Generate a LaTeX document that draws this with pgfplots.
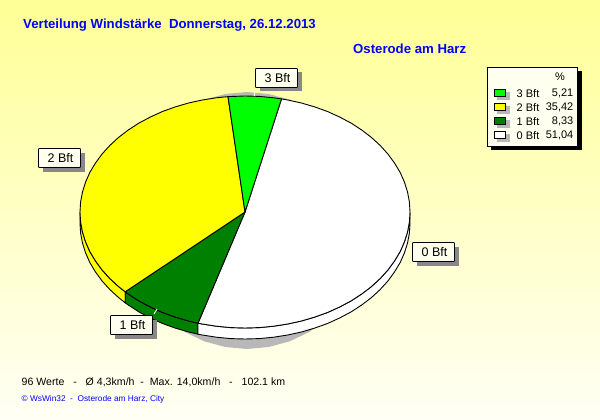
\documentclass[border=0pt]{standalone}
\usepackage{pgfplots}
\pgfplotsset{compat=1.18}
\usepackage{fontspec}
\setmainfont{Liberation Sans}
\definecolor{bgtop}{RGB}{255,255,150}
\definecolor{bgbot}{RGB}{255,255,245}
\definecolor{ivory}{RGB}{255,255,240}
\definecolor{shad}{RGB}{184,184,184}
\definecolor{lshad}{RGB}{136,136,136}
\definecolor{lime3}{RGB}{0,255,0}
\definecolor{yel2}{RGB}{255,255,0}
\definecolor{grn1}{RGB}{0,128,0}
\definecolor{ttl}{RGB}{0,0,255}
\newcommand{\lab}[5]{%
  \fill[lshad] (axis cs:#1+4,#2+4) rectangle (axis cs:#3+4,#4+4);
  \draw[black,line width=0.9pt,fill=ivory,rounded corners=0.7pt] (axis cs:#1,#2) rectangle (axis cs:#3,#4);
  \node[font=\fontsize{12.5}{12}\selectfont,anchor=center] at (axis cs:{(#1+#3)/2+1},{(#2+#4)/2}) {#5};}
\newcommand{\swatch}[2]{%
  \fill[shad] (axis cs:497,#1-1) rectangle (axis cs:510,#1+7);
  \draw[black,line width=0.9pt,fill=#2] (axis cs:494,#1-4) rectangle (axis cs:505.7,#1+3.5);}
\newcommand{\legrow}[3]{%
  \node[font=\fontsize{11}{12}\selectfont,anchor=west,inner sep=0pt] at (axis cs:516.5,#1) {#2};
  \node[font=\fontsize{11}{12}\selectfont,anchor=east,inner sep=0pt] at (axis cs:573.5,#1) {#3};}
\begin{document}
\begin{tikzpicture}
\begin{axis}[
  scale only axis, width=600pt, height=420pt,
  xmin=0, xmax=600, ymin=0, ymax=420, y dir=reverse,
  hide axis, clip=true]
\fill[top color=bgtop,bottom color=bgbot] (axis cs:0,0) rectangle (axis cs:600,420);
% shadow
\addplot[fill=shad,draw=none] coordinates {(372,220.5)(370.1,198.2)(364.5,176.6)(355.3,156.2)(342.8,137.9)(327.4,122.1)(309.5,109.2)(289.8,99.7)(268.7,94)(247,92)(225.3,94)(204.2,99.7)(184.5,109.2)(166.6,122.1)(151.2,137.9)(138.7,156.2)(129.5,176.6)(123.9,198.2)(122,220.5)(123.9,242.8)(129.5,264.4)(138.7,284.8)(151.2,303.1)(166.6,318.9)(184.5,331.8)(204.2,341.3)(225.3,347)(247,349)(268.7,347)(289.8,341.3)(309.5,331.8)(327.4,318.9)(342.8,303.1)(355.3,284.8)(364.5,264.4)(370.1,242.8)} --cycle;
% pie rim
\addplot[fill=yel2,draw=black,line width=0.9pt] coordinates {(80,212)(80.6,222.1)(82.5,232.1)(85.6,242)(89.9,251.7)(95.5,261)(102.1,270)(109.8,278.5)(118.6,286.6)(125.2,291.8)(125.2,302.8)(118.6,297.6)(109.8,289.5)(102.1,281)(95.5,272)(89.9,262.7)(85.6,253)(82.5,243.1)(80.6,233.1)(80,223)} --cycle;
\addplot[fill=grn1,draw=black,line width=0.9pt] coordinates {(125.2,291.8)(128.3,294)(138.9,300.9)(150.4,307)(162.5,312.5)(175.3,317.1)(188.6,321)(198,323.2)(198,334.2)(188.6,332)(175.3,328.1)(162.5,323.5)(150.4,318)(138.9,311.9)(128.3,305)(125.2,302.8)} --cycle;
\addplot[fill=white,draw=black,line width=0.9pt] coordinates {(198,323.2)(202.3,324)(216.4,326.2)(230.6,327.6)(245,328)(259.4,327.6)(273.6,326.2)(287.7,324)(301.4,321)(314.7,317.1)(327.5,312.5)(339.6,307)(351.1,300.9)(361.7,294)(371.4,286.6)(380.2,278.5)(387.9,270)(394.5,261)(400.1,251.7)(404.4,242)(407.5,232.1)(409.4,222.1)(410,212)(410,223)(409.4,233.1)(407.5,243.1)(404.4,253)(400.1,262.7)(394.5,272)(387.9,281)(380.2,289.5)(371.4,297.6)(361.7,305)(351.1,311.9)(339.6,318)(327.5,323.5)(314.7,328.1)(301.4,332)(287.7,335)(273.6,337.2)(259.4,338.6)(245,339)(230.6,338.6)(216.4,337.2)(202.3,335)(198,334.2)} --cycle;
% pie top: 0 Bft
\addplot[fill=white,draw=black,line width=0.9pt] coordinates {(245,212)(198,323.2)(202.3,324)(216.4,326.2)(230.6,327.6)(245,328)(259.4,327.6)(273.6,326.2)(287.7,324)(301.4,321)(314.7,317.1)(327.5,312.5)(339.6,307)(351.1,300.9)(361.7,294)(371.4,286.6)(380.2,278.5)(387.9,270)(394.5,261)(400.1,251.7)(404.4,242)(407.5,232.1)(409.4,222.1)(410,212)(409.4,201.9)(407.5,191.9)(404.4,182)(400.1,172.3)(394.5,163)(387.9,154)(380.2,145.5)(371.4,137.4)(361.7,130)(351.1,123.1)(339.6,117)(327.5,111.5)(314.7,106.9)(301.4,103)(287.7,100)(281.5,98.9)} --cycle;
% 1 Bft
\addplot[fill=grn1,draw=black,line width=0.9pt] coordinates {(245,212)(125.2,291.8)(128.3,294)(138.9,300.9)(150.4,307)(162.5,312.5)(175.3,317.1)(188.6,321)(198,323.2)} --cycle;
% 2 Bft
\addplot[fill=yel2,draw=black,line width=0.9pt] coordinates {(245,212)(228,96.6)(216.4,97.8)(202.3,100)(188.6,103)(175.3,106.9)(162.5,111.5)(150.4,117)(138.9,123.1)(128.3,130)(118.6,137.4)(109.8,145.5)(102.1,154)(95.5,163)(89.9,172.3)(85.6,182)(82.5,191.9)(80.6,201.9)(80,212)(80.6,222.1)(82.5,232.1)(85.6,242)(89.9,251.7)(95.5,261)(102.1,270)(109.8,278.5)(118.6,286.6)(125.2,291.8)} --cycle;
% 3 Bft
\addplot[fill=lime3,draw=black,line width=0.9pt] coordinates {(245,212)(281.5,98.9)(273.6,97.8)(259.4,96.4)(245,96)(228,96.6)} --cycle;
% leader ticks
\addplot[white,line width=0.9pt] coordinates {(254,91)(254,96)};
\addplot[white,line width=0.9pt] coordinates {(157,309)(154,314)};
% labels
\lab{255.5}{68.5}{297.5}{87.5}{3 Bft}
\lab{38.5}{148.5}{80.5}{167.5}{2 Bft}
\lab{110.5}{315.5}{152.5}{334.5}{1 Bft}
\lab{412.5}{242.5}{454.5}{261.5}{0 Bft}
% legend
\fill[black] (axis cs:491,71) rectangle (axis cs:582,150);
\draw[black,line width=0.9pt,fill=ivory] (axis cs:487.5,67.5) rectangle (axis cs:577.5,146);
\node[font=\fontsize{11}{12}\selectfont,inner sep=0pt] at (axis cs:560,77) {\%};
\swatch{93}{lime3}
\swatch{107}{yel2}
\swatch{121}{grn1}
\swatch{135}{white}
\legrow{93.5}{3 Bft}{5,21}
\legrow{107.5}{2 Bft}{35,42}
\legrow{121.5}{1 Bft}{8,33}
\legrow{135.5}{0 Bft}{51,04}
% titles
\node[font=\fontsize{13.2}{14}\selectfont\bfseries,text=ttl,anchor=west,inner sep=0pt] at (axis cs:23,25) {Verteilung Windstärke\ \ Donnerstag, 26.12.2013};
\node[font=\fontsize{13.2}{14}\selectfont\bfseries,text=ttl,anchor=west,inner sep=0pt] at (axis cs:353,49) {Osterode am Harz};
\node[font=\fontsize{10.6}{12}\selectfont,anchor=west,inner sep=0pt] at (axis cs:21.5,382) {96 Werte\ \ \ -\ \ \ Ø 4,3km/h\ \ -\ \ Max. 14,0km/h\ \ \ -\ \ \ 102.1 km};
\node[font=\fontsize{8.3}{9}\selectfont,text=ttl,anchor=west,inner sep=0pt] at (axis cs:21.5,399) {© WsWin32\ \ -\ \ Osterode am Harz, City};
\end{axis}
\end{tikzpicture}
\end{document}
